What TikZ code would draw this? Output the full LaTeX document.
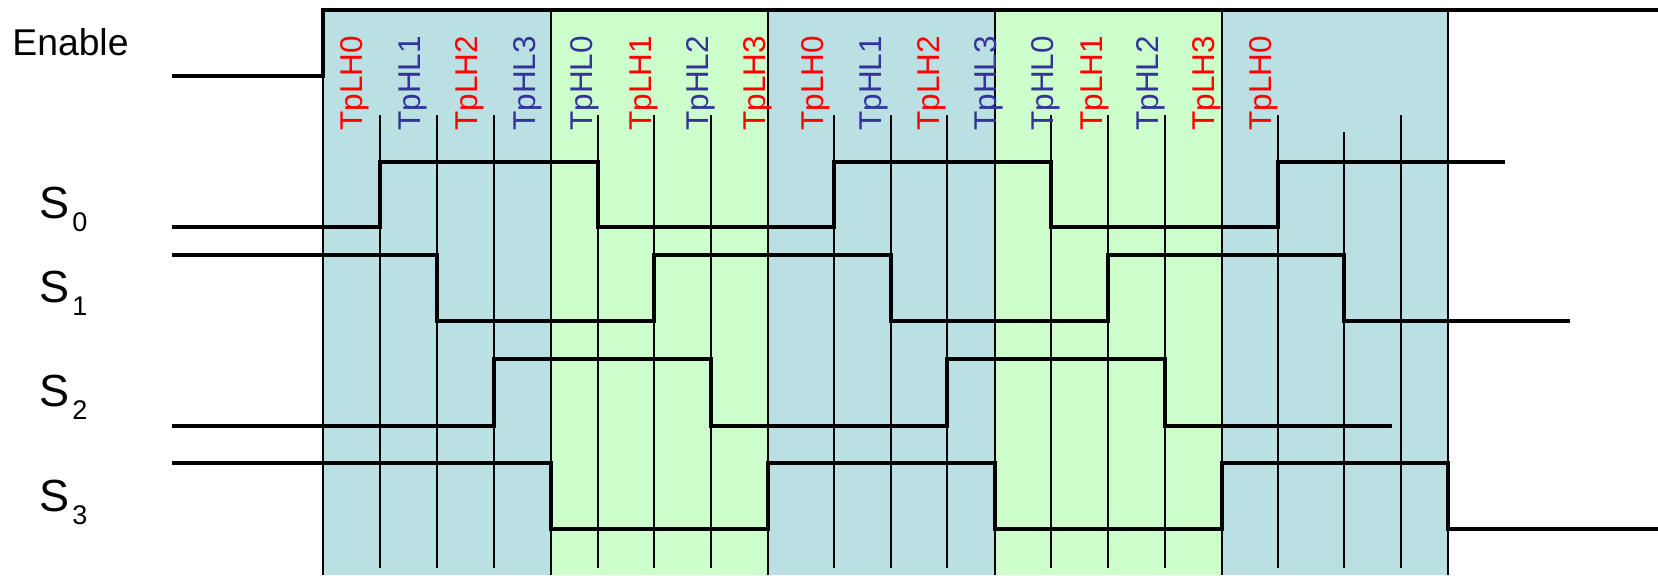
\documentclass[tikz,border=0pt]{standalone}
\usepackage{fontspec}
\setmainfont{Liberation Sans}
\definecolor{bandB}{RGB}{187,224,227}
\definecolor{bandG}{RGB}{204,255,204}
\definecolor{tagblue}{RGB}{51,51,153}
\definecolor{tagred}{RGB}{255,0,0}
\begin{document}
\begin{tikzpicture}[x=0.5pt,y=-0.5pt,
  sig/.style={line width=1.6pt, line join=miter},
  thinline/.style={line width=0.7pt},
  edgeline/.style={line width=0.75pt},
  tag/.style={rotate=90, anchor=west, inner sep=0pt, font=\fontsize{15.75}{16}\selectfont},
  lh/.style={tag, text=tagred},
  hl/.style={tag, text=tagblue},
  lbl/.style={anchor=base west, inner sep=0pt}]
\useasboundingbox (0,0) rectangle (1658,575);
% bands
\fill[bandB] (323,10) rectangle (551,575);
\fill[bandG] (551,10) rectangle (768,575);
\fill[bandB] (768,10) rectangle (995,575);
\fill[bandG] (995,10) rectangle (1222,575);
\fill[bandB] (1222,10) rectangle (1448,575);
% thin timing lines
\foreach \x in {380,437,494,598,654,711,834,891,947,1051,1108,1165,1278,1401}
  \draw[thinline] (\x,115) -- (\x,568);
\draw[thinline] (1344,132) -- (1344,568);
% band edges
\foreach \x in {551,768,995,1222,1448}
  \draw[edgeline] (\x,10) -- (\x,575);
\draw[edgeline] (323,76) -- (323,575);
% signals
\draw[sig] (172,76) -- (323,76) -- (323,10) -- (1658,10);
\draw[sig] (172,227) -- (380,227) -- (380,162) -- (598,162) -- (598,227) -- (834,227) -- (834,162) -- (1051,162) -- (1051,227) -- (1278,227) -- (1278,162) -- (1505,162);
\draw[sig] (172,255) -- (437,255) -- (437,321) -- (654,321) -- (654,255) -- (891,255) -- (891,321) -- (1108,321) -- (1108,255) -- (1344,255) -- (1344,321) -- (1570,321);
\draw[sig] (172,426) -- (494,426) -- (494,359) -- (711,359) -- (711,426) -- (947,426) -- (947,359) -- (1165,359) -- (1165,426) -- (1392,426);
\draw[sig] (172,463) -- (551,463) -- (551,529) -- (768,529) -- (768,463) -- (995,463) -- (995,529) -- (1222,529) -- (1222,463) -- (1448,463) -- (1448,529) -- (1658,529);
% labels
\node[lbl, font=\fontsize{18.65}{19}\selectfont] (en) at (12,55) {Enable};
\node[lbl, font=\fontsize{22.5}{23}\selectfont] (s0) at (39.5,218) {S\kern1.2pt\raisebox{-6.6pt}{\fontsize{13.5}{14}\selectfont 0}};
\node[lbl, font=\fontsize{22.5}{23}\selectfont] (s1) at (39.5,302) {S\kern1.2pt\raisebox{-6.6pt}{\fontsize{13.5}{14}\selectfont 1}};
\node[lbl, font=\fontsize{22.5}{23}\selectfont] (s2) at (39.5,406.5) {S\kern1.2pt\raisebox{-6.6pt}{\fontsize{13.5}{14}\selectfont 2}};
\node[lbl, font=\fontsize{22.5}{23}\selectfont] (s3) at (39.5,511.5) {S\kern1.2pt\raisebox{-6.6pt}{\fontsize{13.5}{14}\selectfont 3}};
% delay tags
\node[lh] (t1) at (354.5,131) {TpLH0};
\node[hl] (t2) at (412.6,131) {TpHL1};
\node[lh] (t3) at (470,131) {TpLH2};
\node[hl] (t4) at (528,131) {TpHL3};
\node[hl] (t5) at (585,131) {TpHL0};
\node[lh] (t6) at (644,131) {TpLH1};
\node[hl] (t7) at (701,131) {TpHL2};
\node[lh] (t8) at (758,131) {TpLH3};
\node[lh] (t9) at (816,131) {TpLH0};
\node[hl] (t10) at (874,131) {TpHL1};
\node[lh] (t11) at (932,131) {TpLH2};
\node[hl] (t12) at (989,131) {TpHL3};
\node[hl] (t13) at (1046,131) {TpHL0};
\node[lh] (t14) at (1095,131) {TpLH1};
\node[hl] (t15) at (1151,131) {TpHL2};
\node[lh] (t16) at (1207,131) {TpLH3};
\node[lh] (t17) at (1264,131) {TpLH0};
\end{tikzpicture}
\end{document}
